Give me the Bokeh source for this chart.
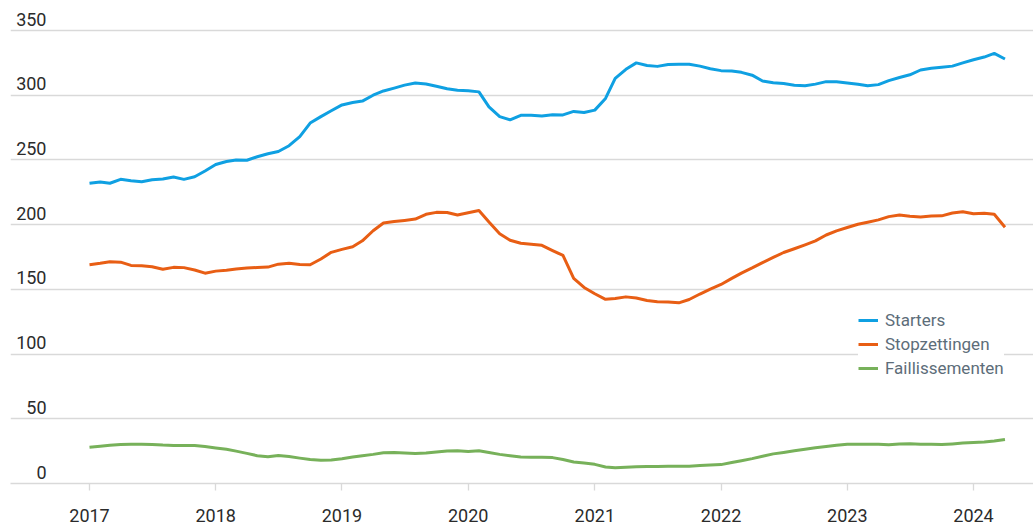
import pandas as pd
from bokeh.plotting import figure
from bokeh.core.properties import value
from bokeh.models import (Range1d, FixedTicker, ColumnDataSource, LabelSet,
                          Legend, LegendItem, DatetimeTickFormatter)
from bokeh.embed import file_html
from bokeh.resources import INLINE

# ---- data (monthly, Jan 2017 - Apr 2024) ----
months = pd.date_range("2017-01-01", periods=88, freq="MS")

starters = [232, 233, 232, 235, 234, 233.2, 234.7, 235.3, 236.8, 235, 237, 241.5,
            246.5, 248.8, 250, 249.8, 252.5, 254.8, 256.5, 261, 268, 278.5, 283.5, 288,
            292.5, 294.4, 295.5, 300, 303.3, 305.5, 307.8, 309.4, 308.7, 307, 305, 303.8,
            303.5, 302.6, 291, 283.5, 281, 284.5, 284.5, 284, 285, 284.8, 287.5, 286.6,
            288.5, 297.5, 313, 320, 325, 323, 322.3, 323.8, 324, 324, 322.5, 320.5,
            319, 318.7, 317.7, 315.5, 311, 309.7, 309, 307.8, 307.3, 308.6, 310.5, 310.5,
            309.5, 308.5, 307.3, 308.2, 311.3, 313.7, 315.8, 319.5, 320.8, 321.6, 322.5, 325,
            327.4, 329.5, 332.3, 328]

stopzettingen = [169, 170.1, 171.3, 171, 168.5, 168.2, 167.5, 165.5, 167, 166.8, 165, 162.5,
                 164.1, 164.8, 165.7, 166.5, 166.9, 167.2, 169.5, 170.1, 169.3, 169, 173.5, 178.6,
                 180.9, 182.9, 187.5, 195.3, 201.3, 202.5, 203.3, 204.3, 208, 209.5, 209.4, 207.5,
                 209.2, 210.9, 202, 193, 188, 185.6, 184.9, 184, 180, 176.2, 158.5, 151.5,
                 146.6, 142.3, 142.9, 144.2, 143.3, 141.4, 140.4, 140.3, 139.6, 142.2, 146.4, 150.2,
                 153.8, 158.5, 162.6, 166.6, 170.7, 174.7, 178.5, 181.4, 184.4, 187.5, 192, 195.2,
                 197.8, 200.3, 201.9, 203.7, 206.2, 207.4, 206.5, 206, 206.6, 206.8, 209, 210,
                 208.4, 208.8, 208, 198]

faillissementen = [28, 28.8, 29.5, 30.2, 30.4, 30.4, 30.2, 29.7, 29.4, 29.4, 29.4, 28.6,
                   27.5, 26.5, 25, 23.3, 21.5, 20.6, 21.6, 20.8, 19.6, 18.6, 18, 18.2,
                   19.2, 20.4, 21.5, 22.5, 23.7, 23.9, 23.6, 23.2, 23.5, 24.3, 25.2, 25.3,
                   24.8, 25.3, 24, 22.5, 21.5, 20.5, 20.3, 20.3, 20, 18.5, 16.6, 15.8,
                   14.8, 12.8, 12.1, 12.6, 12.9, 13.1, 13.2, 13.3, 13.4, 13.4, 14, 14.3,
                   14.6, 16.2, 17.6, 19.2, 21, 22.9, 24, 25.3, 26.5, 27.7, 28.6, 29.5,
                   30.4, 30.3, 30.3, 30.4, 29.9, 30.6, 30.8, 30.3, 30.3, 30.1, 30.6, 31.2,
                   31.6, 32, 32.8, 34]

series_names = ["Starters", "Stopzettingen", "Faillissementen"]
series_colors = ["#0fa0e2", "#e85e14", "#77b15a"]
years = list(range(2017, 2025))
y_ticks = [0, 50, 100, 150, 200, 250, 300, 350]

FONT = "Roboto"

# ---- layout ----
W, H = 1033, 529
BORDER_L, BORDER_B = 10, 46
frame_w = W - BORDER_L
t2017 = pd.Timestamp("2017-01-01").value / 1e6
t2024 = pd.Timestamp("2024-01-01").value / 1e6
px_per_ms = 884.0 / (t2024 - t2017)
x_start = t2017 - 79.0 / px_per_ms
x_end = x_start + frame_w / px_per_ms

p = figure(width=W, height=H, output_backend="svg", toolbar_location=None,
           x_axis_type="datetime",
           x_range=Range1d(x_start, x_end), y_range=Range1d(0, 373.2),
           min_border_left=BORDER_L, min_border_right=0, min_border_top=0,
           min_border_bottom=BORDER_B)
p.outline_line_color = None
p.background_fill_color = "white"
p.border_fill_color = "white"

grid_col = "#d9d9d9"
p.xgrid.visible = False
p.ygrid.ticker = FixedTicker(ticks=y_ticks)
p.ygrid.grid_line_color = grid_col
p.ygrid.grid_line_width = 1.3
p.yaxis.visible = False

xa = p.xaxis[0]
xa.ticker = FixedTicker(ticks=[pd.Timestamp(f"{y}-01-01").value / 1e6 for y in years])
xa.formatter = DatetimeTickFormatter(years="%Y", months="%Y", days="%Y")
xa.axis_line_color = grid_col
xa.axis_line_width = 1.3
xa.major_tick_line_color = grid_col
xa.major_tick_line_width = 1.3
xa.major_tick_in = 0
xa.major_tick_out = 7
xa.minor_tick_line_color = None
xa.major_label_standoff = 18
xa.major_label_text_font = FONT
xa.major_label_text_font_size = "18px"
xa.major_label_text_color = "#2b2b2b"

renderers = []
for name, vals, col in zip(series_names, [starters, stopzettingen, faillissementen], series_colors):
    src = ColumnDataSource(dict(x=months, y=vals))
    r = p.line("x", "y", source=src, line_color=col, line_width=3, line_join="round")
    renderers.append((name, r))

# y tick labels above grid lines (inside plot)
ysrc = ColumnDataSource(dict(y=y_ticks, t=[str(v) for v in y_ticks]))
ylabels = LabelSet(x=36, y="y", text="t", source=ysrc, x_units="screen", y_units="data",
                   text_align="right", text_baseline="alphabetic", y_offset=5,
                   text_font=value(FONT), text_font_size=value("18px"),
                   text_color="#2b2b2b")
p.add_layout(ylabels)

legend = Legend(items=[LegendItem(label=n, renderers=[r]) for n, r in renderers],
                location=(848, 105), orientation="vertical",
                padding=10, spacing=4, margin=0,
                glyph_width=20, glyph_height=20, label_height=20, label_standoff=7,
                label_text_font=FONT, label_text_font_size="17px",
                label_text_color="#5d6d79",
                background_fill_color="white", background_fill_alpha=1.0,
                border_line_color=None)
p.add_layout(legend)

open("out.html", "w").write(file_html(p, INLINE))
